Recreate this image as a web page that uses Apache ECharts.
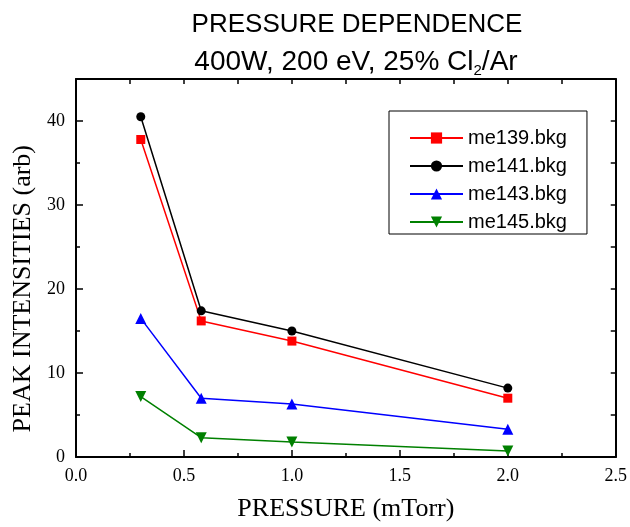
<!DOCTYPE html>
<html>
<head>
<meta charset="utf-8">
<script src="https://cdn.jsdelivr.net/npm/echarts@6/dist/echarts.min.js"></script>
<style>html,body{margin:0;padding:0;background:#fff;}#c{width:630px;height:527px;}</style>
</head>
<body>
<div id="c"></div>
<script>
var pressure = [0.3, 0.58, 1.0, 2.0];
var me139 = [37.8, 16.2, 13.8, 7.0];
var me141 = [40.5, 17.4, 15.0, 8.2];
var me143 = [16.5, 7.0, 6.3, 3.3];
var me145 = [7.2, 2.3, 1.8, 0.7];
var seriesNames = ['me139.bkg', 'me141.bkg', 'me143.bkg', 'me145.bkg'];
var titleText = 'PRESSURE DEPENDENCE';
var subtitleText = '400W, 200 eV, 25% Cl{sub|2}/Ar';
var xName = 'PRESSURE (mTorr)';
var yName = 'PEAK INTENSITIES (arb)';

function pairs(ys) { return ys.map(function (v, i) { return [pressure[i], v]; }); }

var chart = echarts.init(document.getElementById('c'), null, {renderer: 'canvas'});
var serif = '"Liberation Serif", "Times New Roman", serif';
var sans = '"Liberation Sans", Arial, sans-serif';

function mkSeries(name, data, color, symbol, size, rot) {
  return {
    name: name, type: 'line', data: pairs(data), xAxisIndex: 0, yAxisIndex: 0,
    symbol: symbol, symbolSize: size, symbolRotate: rot || 0, showSymbol: true,
    lineStyle: {color: color, width: 1.5}, itemStyle: {color: color},
    emphasis: {disabled: true}, animation: false
  };
}

chart.setOption({
  animation: false,
  backgroundColor: '#fff',
  title: [
    {text: titleText, left: 357, top: 12, textAlign: 'center', padding: 0,
     textStyle: {fontFamily: sans, fontSize: 26, fontWeight: 'normal', color: '#000'}},
    {text: subtitleText, left: 356, top: 46, textAlign: 'center', padding: 0,
     textStyle: {fontFamily: sans, fontSize: 28, fontWeight: 'normal', color: '#000',
       rich: {sub: {fontFamily: sans, fontSize: 15, color: '#000', padding: [17, 0, 0, 0]}}}}
  ],
  legend: {
    orient: 'vertical', left: 389, top: 111,
    padding: [17, 20, 2, 20],
    borderColor: '#000', borderWidth: 1,
    itemWidth: 53, itemHeight: 14, itemGap: 8,
    textStyle: {fontFamily: sans, fontSize: 20, color: '#000', lineHeight: 20},
    data: seriesNames
  },
  graphic: [
    {type: 'text', left: 10, top: 145, silent: true,
     style: {text: yName, font: '26px ' + serif, fill: '#000'},
     rotation: Math.PI / 2, originX: 0, originY: 0}
  ],
  grid: {left: 76, right: 10, top: 79, bottom: 60, containLabel: false},
  xAxis: [
    {type: 'value', position: 'bottom', min: 0, max: 2.5, interval: 0.5,
     name: xName, nameLocation: 'middle', nameGap: 39,
     nameTextStyle: {fontFamily: serif, fontSize: 26, color: '#000'},
     axisLine: {show: true, lineStyle: {color: '#000', width: 2}},
     axisTick: {show: true, inside: true, length: 7, lineStyle: {color: '#000', width: 1.5}},
     minorTick: {show: true, splitNumber: 2, length: 4, lineStyle: {color: '#000', width: 1.5}},
     axisLabel: {fontFamily: serif, fontSize: 18, color: '#000', margin: 10,
       formatter: function (v) { return v.toFixed(1); }},
     splitLine: {show: false}, minorSplitLine: {show: false}},
    {type: 'value', position: 'top', min: 0, max: 2.5, interval: 0.25,
     axisLine: {show: true, onZero: false, lineStyle: {color: '#000', width: 2}},
     axisTick: {show: true, inside: true, length: 5, lineStyle: {color: '#000', width: 1.5}},
     axisLabel: {show: false}, splitLine: {show: false}}
  ],
  yAxis: [
    {type: 'value', position: 'left', min: 0, max: 45, interval: 10,
     axisLine: {show: true, lineStyle: {color: '#000', width: 2}},
     axisTick: {show: true, inside: true, length: 7, lineStyle: {color: '#000', width: 1.5}},
     axisLabel: {fontFamily: serif, fontSize: 18, color: '#000', margin: 11, showMaxLabel: false,
       formatter: function (v) { return v % 10 === 0 ? String(v) : ''; }},
     splitLine: {show: false}},
    {type: 'value', position: 'left', min: 0, max: 45, interval: 5,
     axisLine: {show: false},
     axisTick: {show: true, inside: true, length: 4, lineStyle: {color: '#000', width: 1.5}},
     axisLabel: {show: false}, splitLine: {show: false}},
    {type: 'value', position: 'right', min: 0, max: 45, interval: 5,
     axisLine: {show: true, onZero: false, lineStyle: {color: '#000', width: 2}},
     axisTick: {show: true, inside: true, length: 5, lineStyle: {color: '#000', width: 1.5}},
     axisLabel: {show: false}, splitLine: {show: false}}
  ],
  series: [
    mkSeries(seriesNames[0], me139, '#ff0000', 'rect', 9),
    mkSeries(seriesNames[1], me141, '#000000', 'circle', 9),
    mkSeries(seriesNames[2], me143, '#0000ff', 'triangle', 11),
    mkSeries(seriesNames[3], me145, '#008000', 'triangle', 11, 180)
  ]
});
</script>
</body>
</html>
